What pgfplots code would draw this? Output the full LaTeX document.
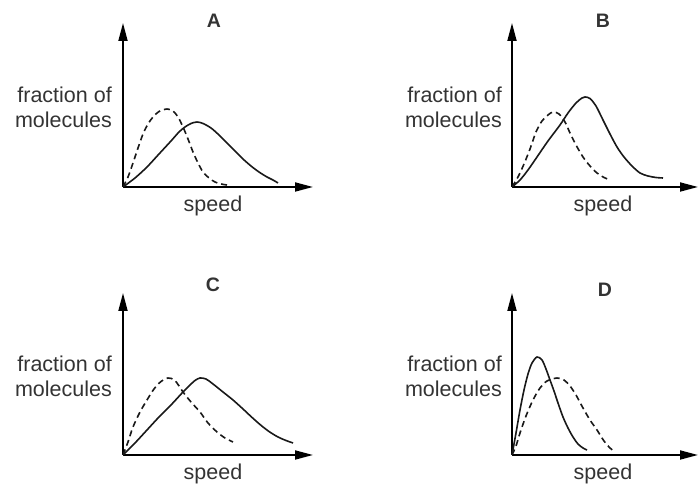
\documentclass[border=0pt]{standalone}
\usepackage{pgfplots}
\pgfplotsset{compat=1.18}
\usepackage{fontspec}
\setmainfont{Liberation Sans}
\usetikzlibrary{arrows.meta}

% one panel = one axis, 1 unit = 1pt, origin at the corner of the axes
\pgfplotsset{
  panel/.style={
    x=1pt, y=1pt, xmin=0, ymin=0, anchor=south west,
    axis lines=left, ticks=none, clip=false,
    axis line style={line width=1.8pt, black, -{Triangle[length=18pt,width=9pt]}},
  },
  mb/.style={smooth, line width=1.6pt, black!90},
  mbdash/.style={mb, dash pattern=on 6pt off 4pt},
}
\tikzset{lbl/.style={inner sep=0pt, text=black!80}}
\newcommand\lab{\fontsize{21.5pt}{25pt}\selectfont}
\newcommand\ttl{\fontsize{19.5pt}{22pt}\selectfont\bfseries}

\begin{document}
\begin{tikzpicture}
\path[use as bounding box] (0,0) rectangle (699pt,486pt);

% ---------- A ----------
\begin{axis}[panel, at={(123pt,299pt)}, xmax=190, ymax=164]
  \addplot[mbdash] coordinates {(0,0) (5,10) (10,24) (15,39) (20,53) (25,63) (30,70) (36,75.5) (44,78) (50,76) (55,70) (60,60) (65,48) (70,35) (75,24) (80,15) (86,9) (92,5) (98,3) (104,2)};
  \addplot[mb] coordinates {(0,0) (12,9) (24,20) (36,33) (48,46) (56,55) (62,60) (68,63.5) (74,65) (80,63.5) (88,59) (96,52) (104,44) (112,36) (120,28) (128,21) (136,15) (144,10) (150,7) (155,4)};
  \node[lbl, anchor=base] at (axis cs:91,159) {\ttl A};
  \node[lbl, anchor=base east] at (axis cs:-11,84) {\lab fraction of};
  \node[lbl, anchor=base east] at (axis cs:-11,59) {\lab molecules};
  \node[lbl, anchor=base] at (axis cs:90,-25) {\lab speed};
\end{axis}

% ---------- B ----------
\begin{axis}[panel, at={(512pt,299pt)}, xmax=186, ymax=164]
  \addplot[mbdash] coordinates {(0,0) (6,10) (12,23) (18,38) (24,55) (30,66) (36,72) (41,75) (47,73) (53,65) (58,54) (64,42) (71,30) (78,21) (85,14) (92,9.5) (98,7)};
  \addplot[mb] coordinates {(0,0) (8,7) (16,17) (25,30) (36,46) (48,62) (56,74) (64,84) (70,89) (73,90) (78,88.5) (84,81) (91,67) (98,53) (105,40) (112,30) (120,21) (128,14) (136,11) (144,9.5) (151,9)};
  \node[lbl, anchor=base] at (axis cs:91,159) {\ttl B};
  \node[lbl, anchor=base east] at (axis cs:-10,84) {\lab fraction of};
  \node[lbl, anchor=base east] at (axis cs:-10,59) {\lab molecules};
  \node[lbl, anchor=base] at (axis cs:91,-25) {\lab speed};
\end{axis}

% ---------- C ----------
\begin{axis}[panel, at={(123pt,31pt)}, xmax=190, ymax=162]
  \addplot[mbdash] coordinates {(0,0) (5,13) (10,28) (17,43) (24,55) (31,66) (38,73.5) (45,77) (52,74.5) (60,63) (68,53) (77,43) (85,32) (94,23) (102,17) (110,13)};
  \addplot[mb] coordinates {(0,0) (12,12) (24,25) (36,38) (48,50) (60,63) (66,69) (72,74.5) (77,77) (83,76) (90,71) (100,63) (110,55) (120,46) (128,38.5) (137,30.5) (146,23.5) (155,18) (163,14.5) (170,12)};
  \node[lbl, anchor=base] at (axis cs:90,163) {\ttl C};
  \node[lbl, anchor=base east] at (axis cs:-11,83) {\lab fraction of};
  \node[lbl, anchor=base east] at (axis cs:-11,58) {\lab molecules};
  \node[lbl, anchor=base] at (axis cs:90,-25) {\lab speed};
\end{axis}

% ---------- D ----------
\begin{axis}[panel, at={(512pt,31pt)}, xmax=186, ymax=162]
  \addplot[mb] coordinates {(0,0) (4,22) (8,45) (12,65) (16,81) (20,92) (25,98) (30,95) (34,86) (38,75) (42,64) (46,52) (51,38) (56,27) (61,18) (66,11) (71,7) (75,5)};
  \addplot[mbdash] coordinates {(0,0) (4,9) (8,22) (14,39) (21,55) (28,67) (35,74) (45,77) (52,75) (58,69) (64,60) (71,47) (78,35) (85,25) (92,14) (98,7) (103,3)};
  \node[lbl, anchor=base] at (axis cs:93,158) {\ttl D};
  \node[lbl, anchor=base east] at (axis cs:-10,83) {\lab fraction of};
  \node[lbl, anchor=base east] at (axis cs:-10,58) {\lab molecules};
  \node[lbl, anchor=base] at (axis cs:91,-25) {\lab speed};
\end{axis}
\end{tikzpicture}
\end{document}
